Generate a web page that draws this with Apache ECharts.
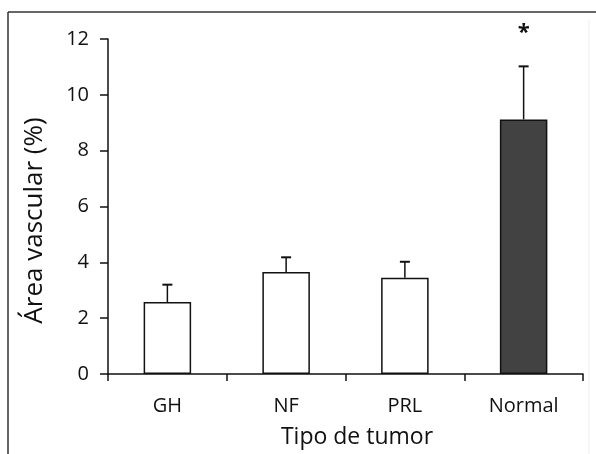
<!DOCTYPE html>
<html>
<head>
<meta charset="utf-8">
<script src="https://cdn.jsdelivr.net/npm/echarts@6/dist/echarts.min.js"></script>
<style>html,body{margin:0;padding:0;background:#fff}#c{width:596px;height:454px}</style>
</head>
<body>
<div id="c"></div>
<script>
var categories = ['GH', 'NF', 'PRL', 'Normal'];
var means = [2.58, 3.65, 3.45, 9.12];
var errTop = [3.2, 4.18, 4.02, 11.02];
var significance = ['', '', '', '*'];
var yTicks = [0, 2, 4, 6, 8, 10, 12];

var FONT = '"Open Sans", sans-serif';
var chart = echarts.init(document.getElementById('c'));
chart.setOption({
  backgroundColor: '#fff',
  animation: false,
  graphic: [
    { type: 'line', shape: { x1: 8, y1: 12, x2: 596, y2: 12 }, style: { stroke: '#666', lineWidth: 2 } },
    { type: 'line', shape: { x1: 8, y1: 12, x2: 8, y2: 454 }, style: { stroke: '#333', lineWidth: 1.5 } },
    { type: 'line', shape: { x1: 589, y1: 20, x2: 589, y2: 454 }, style: { stroke: '#eeeeee', lineWidth: 1 } }
  ],
  grid: { left: 108, right: 13, top: 39, bottom: 77 },
  xAxis: {
    type: 'category',
    data: categories,
    name: 'Tipo de tumor',
    nameLocation: 'middle',
    nameGap: 52,
    nameTextStyle: { fontFamily: FONT, fontSize: 23, color: '#111', padding: [0, 0, 0, 23] },
    axisLine: { lineStyle: { color: '#111', width: 1.5 } },
    axisTick: { show: true, length: 7, lineStyle: { color: '#111', width: 1.5 } },
    axisLabel: { fontFamily: FONT, fontSize: 20, color: '#111', margin: 22 }
  },
  yAxis: {
    type: 'value',
    min: 0, max: 12, interval: 2,
    name: 'Área vascular (%)',
    nameLocation: 'middle',
    nameGap: 60,
    nameTextStyle: { fontFamily: FONT, fontSize: 26, color: '#111', padding: [0, 28, 0, 0] },
    splitLine: { show: false },
    axisLine: { show: true, lineStyle: { color: '#111', width: 1.5 } },
    axisTick: { show: true, length: 8, lineStyle: { color: '#111', width: 1.5 } },
    axisLabel: { fontFamily: FONT, fontSize: 20, color: '#111', margin: 19,
      formatter: function (v) { return yTicks.indexOf(v) >= 0 ? String(v) : ''; } }
  },
  series: [
    {
      type: 'bar',
      barWidth: '40%',
      data: means.map(function (v, i) {
        return { value: v, itemStyle: { color: categories[i] === 'Normal' ? '#424242' : '#ffffff' } };
      }),
      itemStyle: { borderColor: '#111', borderWidth: 1.5 }
    },
    {
      type: 'custom',
      data: means.map(function (v, i) { return [i, v, errTop[i]]; }),
      renderItem: function (params, api) {
        var i = api.value(0);
        var p0 = api.coord([i, api.value(1)]);
        var p1 = api.coord([i, api.value(2)]);
        var children = [
          { type: 'line', shape: { x1: p0[0], y1: p0[1], x2: p1[0], y2: p1[1] }, style: { stroke: '#111', lineWidth: 1.5 } },
          { type: 'line', shape: { x1: p1[0] - 5, y1: p1[1], x2: p1[0] + 5, y2: p1[1] }, style: { stroke: '#111', lineWidth: 2 } }
        ];
        var s = significance[params.dataIndex];
        if (s) {
          children.push({ type: 'text', style: { text: s, x: p1[0], y: p1[1] - 34, align: 'center', verticalAlign: 'middle', font: 'bold 22px ' + FONT, fill: '#111' } });
        }
        return { type: 'group', children: children };
      },
      z: 5
    }
  ]
});
</script>
</body>
</html>
